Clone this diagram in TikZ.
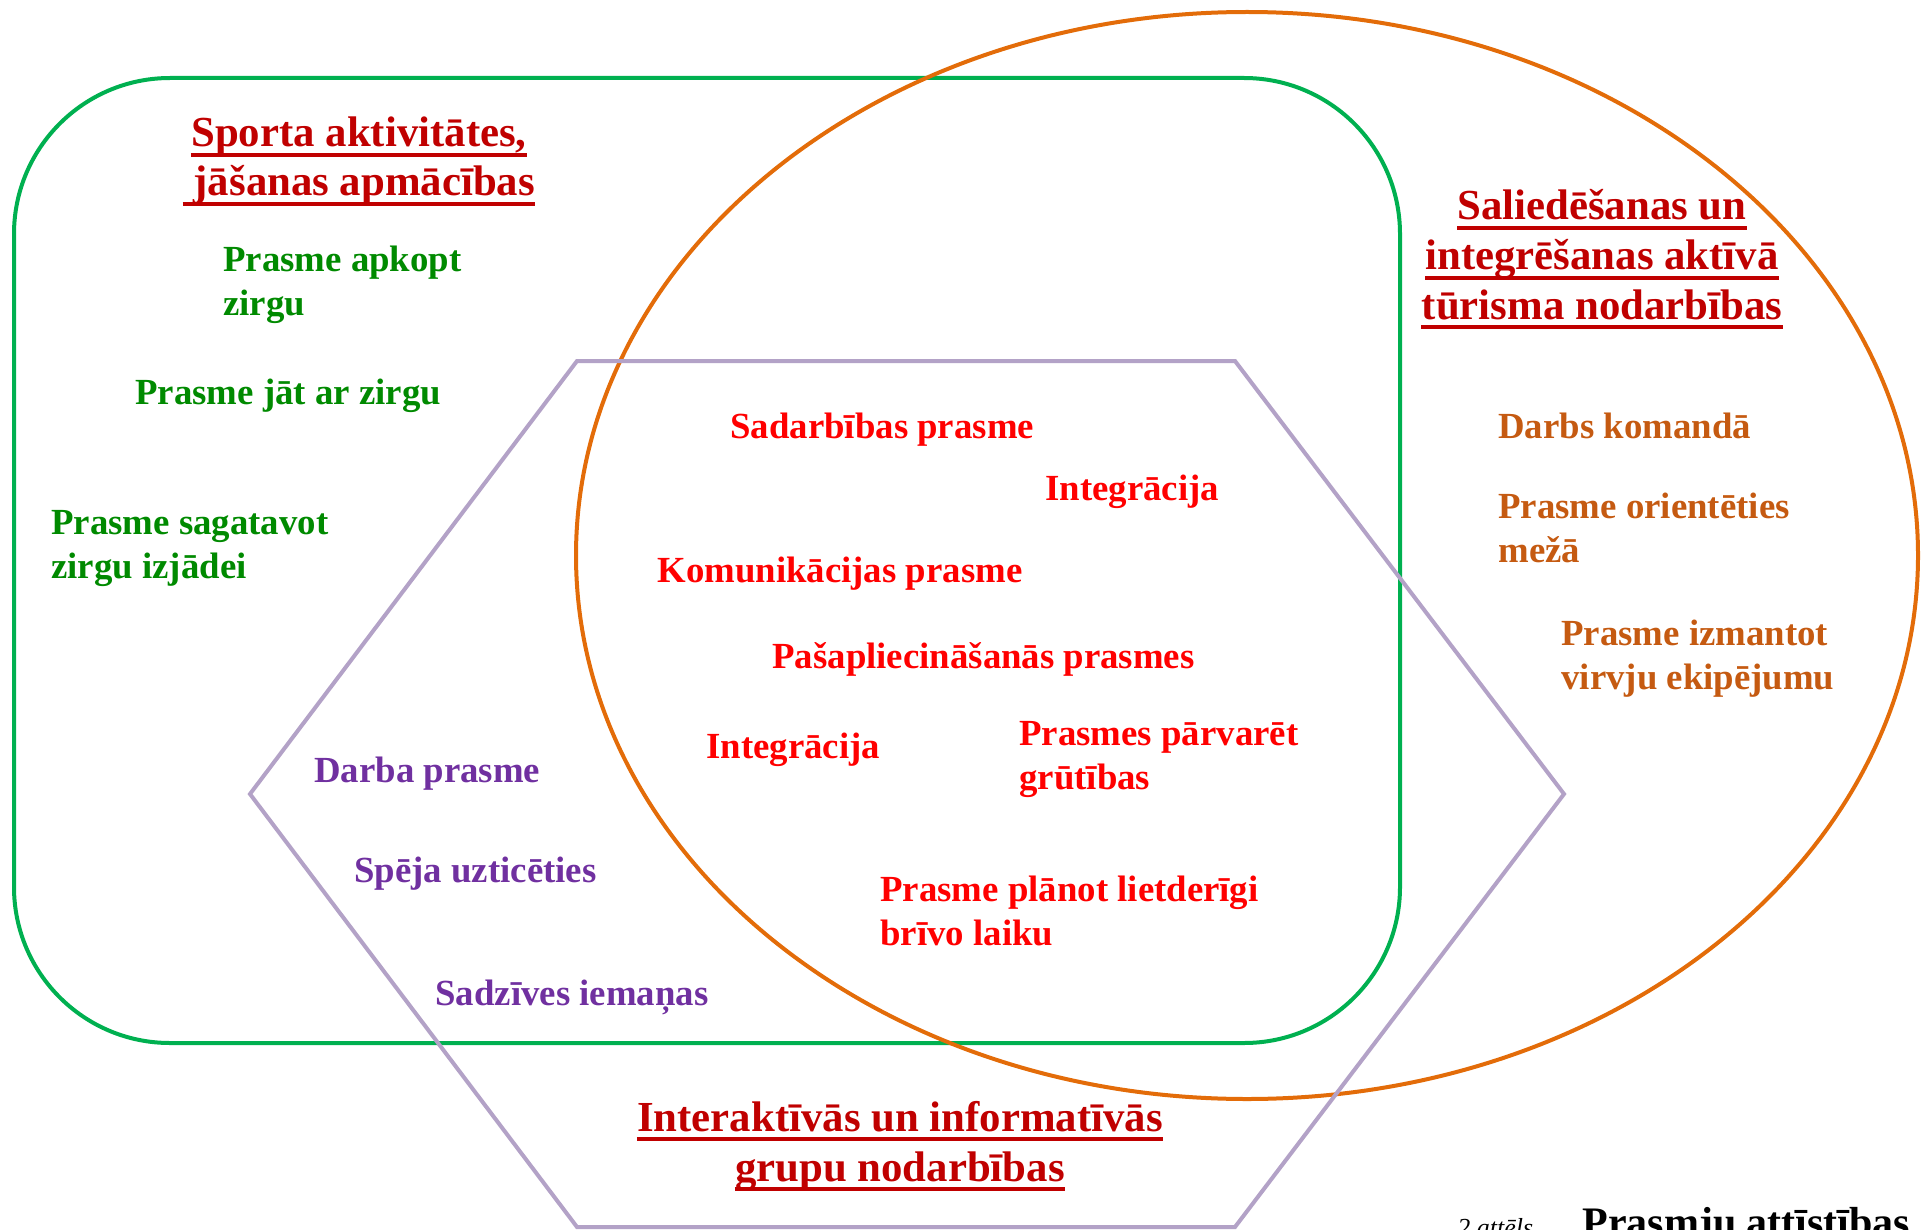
\documentclass[tikz,border=0pt]{standalone}
\usepackage{fontspec}
\setmainfont{Liberation Serif}
\definecolor{gline}{HTML}{00B050}
\definecolor{oline}{HTML}{E36C09}
\definecolor{pline}{HTML}{B3A2C7}
\definecolor{gtext}{HTML}{008A00}
\definecolor{rtext}{HTML}{FF0000}
\definecolor{dred}{HTML}{C00000}
\definecolor{otext}{HTML}{C55A11}
\definecolor{ptext}{HTML}{7030A0}
\newcommand\bodyfnt{\fontsize{18.4pt}{22pt}\selectfont\bfseries}
\newcommand\titlefnt{\fontsize{21.4pt}{24.5pt}\selectfont\bfseries}
\begin{document}
\begin{tikzpicture}[x=0.5pt,y=-0.5pt,
  item/.style={font=\bodyfnt, inner sep=0pt, anchor=base west, align=left},
  gitem/.style={item, text=gtext},
  ritem/.style={item, text=rtext},
  oitem/.style={item, text=otext},
  pitem/.style={item, text=ptext},
  ttl/.style={font=\titlefnt, text=dred, inner sep=0pt, anchor=base},
  ulin/.style={draw=dred, line width=1.7pt},
  gframe/.style={draw=gline, line width=2pt, rounded corners=78pt},
  oframe/.style={draw=oline, line width=2pt},
  pframe/.style={draw=pline, line width=2pt, line join=miter}]
\useasboundingbox (0,0) rectangle (1921,1230);
\clip (0,0) rectangle (1921,1230);

% frames
\draw[gframe] (14,78) rectangle (1400,1043);
\draw[oframe] (1247,555.5) ellipse [x radius=671, y radius=543.5];
\draw[pframe] (577,361) -- (1235,361) -- (1564,794) -- (1235,1227) -- (577,1227) -- (250,794) -- cycle;

% titles
\node[ttl] (t1a) at (359,147) {Sporta aktivitātes,};
\node[ttl] (t1b) at (359,196) {\ jāšanas apmācības};
\draw[ulin] ([yshift=-4pt]t1a.base west) -- ([yshift=-4pt]t1a.base east);
\draw[ulin] ([yshift=-4pt]t1b.base west) -- ([yshift=-4pt]t1b.base east);

\node[ttl] (t2a) at (1602,220) {Saliedēšanas un};
\node[ttl] (t2b) at (1602,270) {integrēšanas aktīvā};
\node[ttl] (t2c) at (1602,319) {tūrisma nodarbības};
\draw[ulin] ([yshift=-4pt]t2a.base west) -- ([yshift=-4pt]t2a.base east);
\draw[ulin] ([yshift=-4pt]t2b.base west) -- ([yshift=-4pt]t2b.base east);
\draw[ulin] ([yshift=-4pt]t2c.base west) -- ([yshift=-4pt]t2c.base east);

\node[ttl] (t3a) at (900,1131) {Interaktīvās un informatīvās};
\node[ttl] (t3b) at (900,1181) {grupu nodarbības};
\draw[ulin] ([yshift=-4pt]t3a.base west) -- ([yshift=-4pt]t3a.base east);
\draw[ulin] ([yshift=-4pt]t3b.base west) -- ([yshift=-4pt]t3b.base east);

% green items (multi-line nodes: base = last line)
\node[gitem] (g1) at (223,315) {Prasme apkopt\\zirgu};
\node[gitem] (g2) at (135,404) {Prasme jāt ar zirgu};
\node[gitem] (g3) at (51,578) {Prasme sagatavot\\zirgu izjādei};

% orange items
\node[oitem] (o1) at (1498,438) {Darbs komandā};
\node[oitem] (o2) at (1498,562) {Prasme orientēties\\mežā};
\node[oitem] (o3) at (1561,689) {Prasme izmantot\\virvju ekipējumu};

% red items
\node[ritem] (r1) at (730,438) {Sadarbības prasme};
\node[ritem] (r2) at (1045,500) {Integrācija};
\node[ritem] (r3) at (657,582) {Komunikācijas prasme};
\node[ritem] (r4) at (772,668) {Pašapliecināšanās prasmes};
\node[ritem] (r5) at (706,758) {Integrācija};
\node[ritem] (r6) at (1019,789) {Prasmes pārvarēt\\grūtības};
\node[ritem] (r7) at (880,945) {Prasme plānot lietderīgi\\brīvo laiku};

% purple items
\node[pitem] (p1) at (314,782) {Darba prasme};
\node[pitem] (p2) at (354,882) {Spēja uzticēties};
\node[pitem] (p3) at (435,1005) {Sadzīves iemaņas};

% caption (cut off at the bottom edge, as in the reference)
\node[inner sep=0pt, anchor=base west, font=\fontsize{13pt}{15pt}\selectfont\itshape] (c1) at (1457,1236) {2.attēls.};
\node[inner sep=0pt, anchor=base west, font=\fontsize{21pt}{24pt}\selectfont\bfseries] (c2) at (1582,1236) {Prasmju attīstības};
\end{tikzpicture}
\end{document}
